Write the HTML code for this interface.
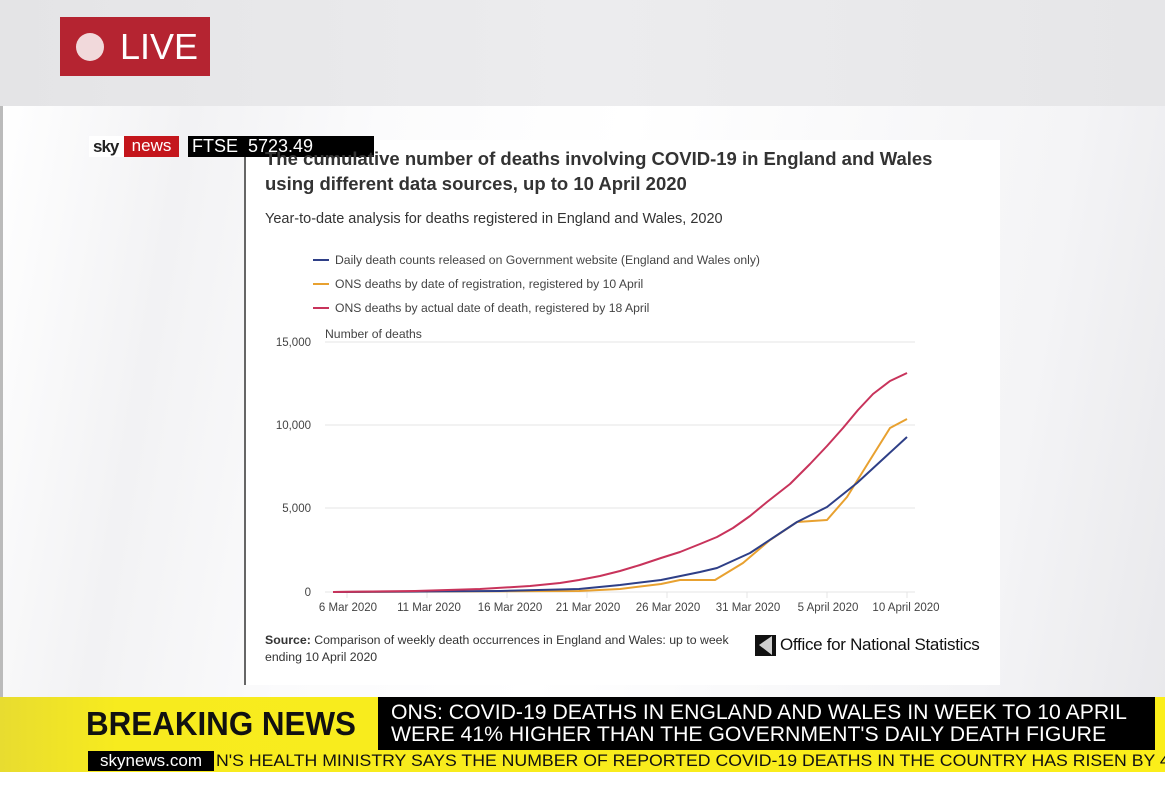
<!DOCTYPE html>
<html><head><meta charset="utf-8"><style>
body{margin:0;width:1165px;height:790px;overflow:hidden;position:relative;background:#fff;font-family:"Liberation Sans",sans-serif}
.a{position:absolute}
</style></head><body>
<div class="a" style="left:0;top:0;width:1165px;height:106px;background:linear-gradient(90deg,#e4e4e6,#ececee 50%,#e6e6e8)"></div>
<div class="a" style="left:0;top:106px;width:1165px;height:591px;background:linear-gradient(100deg,#fff 0%,#f2f2f4 15%,#fbfbfc 30%,#fff 50%,#f4f4f6 85%,#e9e9ec 100%)"></div>
<div class="a" style="left:0;top:106px;width:3px;height:591px;background:#bbb"></div>
<div class="a" style="left:60px;top:17px;width:150px;height:59px;background:#b52431"></div>
<div class="a" style="left:76px;top:33px;width:28px;height:28px;border-radius:50%;background:#f1d9db"></div>
<div class="a" style="left:120px;top:26px;color:#fff;font-size:36px;line-height:42px">LIVE</div>
<div class="a" style="left:244px;top:140px;width:754px;height:545px;background:#fff;border-left:2px solid #666"></div>
<div class="a" style="left:89px;top:136px;width:90px;height:21px;background:#fff"></div>
<div class="a" style="left:93px;top:136px;font-size:17px;font-weight:bold;letter-spacing:-1px;color:#222;line-height:21px">sky</div>
<div class="a" style="left:124px;top:136px;width:55px;height:21px;background:#c4161c;color:#fff;font-size:17px;line-height:20px;text-align:center">news</div>
<div class="a" style="left:188px;top:136px;width:186px;height:21px;background:#000;color:#fff;font-size:18px;line-height:21px;padding-left:4px;box-sizing:border-box">FTSE&nbsp; 5723.49</div>
<div class="a" style="left:265px;top:146px;font-size:18.5px;font-weight:bold;color:#333;line-height:25px;white-space:nowrap">The cumulative number of deaths involving COVID-19 in England and Wales<br>using different data sources, up to 10 April 2020</div>
<div class="a" style="left:265px;top:211px;font-size:14.5px;color:#333">Year-to-date analysis for deaths registered in England and Wales, 2020</div>
<svg class="a" style="left:0;top:0" width="1165" height="790">
<g stroke-width="2"><line x1="313" y1="260" x2="329" y2="260" stroke="#2e3f87"/><line x1="313" y1="284" x2="329" y2="284" stroke="#e8a130"/><line x1="313" y1="308" x2="329" y2="308" stroke="#c8335b"/></g>
<g font-family="Liberation Sans" font-size="12.2" fill="#444">
<text x="335" y="264">Daily death counts released on Government website (England and Wales only)</text>
<text x="335" y="288">ONS deaths by date of registration, registered by 10 April</text>
<text x="335" y="312">ONS deaths by actual date of death, registered by 18 April</text>
<text x="325" y="338">Number of deaths</text>
</g>
<g font-family="Liberation Sans" font-size="11.5" fill="#444">
<g text-anchor="end"><text x="311" y="346">15,000</text><text x="311" y="429">10,000</text><text x="311" y="512">5,000</text><text x="311" y="596">0</text></g>
<g text-anchor="middle"><text x="348" y="611">6 Mar 2020</text><text x="429" y="611">11 Mar 2020</text><text x="510" y="611">16 Mar 2020</text><text x="588" y="611">21 Mar 2020</text><text x="668" y="611">26 Mar 2020</text><text x="748" y="611">31 Mar 2020</text><text x="828" y="611">5 April 2020</text><text x="906" y="611">10 April 2020</text></g>
</g>
<g stroke="#e4e4e4" stroke-width="1"><line x1="325" y1="342" x2="915" y2="342"/><line x1="325" y1="425" x2="915" y2="425"/><line x1="325" y1="508" x2="915" y2="508"/><line x1="325" y1="592" x2="915" y2="592"/>
<line x1="347" y1="592" x2="347" y2="598"/><line x1="427" y1="592" x2="427" y2="598"/><line x1="507" y1="592" x2="507" y2="598"/><line x1="587" y1="592" x2="587" y2="598"/><line x1="667" y1="592" x2="667" y2="598"/><line x1="747" y1="592" x2="747" y2="598"/><line x1="827" y1="592" x2="827" y2="598"/><line x1="907" y1="592" x2="907" y2="598"/></g>
<g fill="none" stroke-width="2" stroke-linejoin="round">
<polyline stroke="#e8a130" points="333,592 579,591 620,589 661,584 680,580 715,580 743,563 770,540 797,522 827,520 847,497 870,460 890,428 907,419"/>
<polyline stroke="#2e3f87" points="333,592 500,591 579,589 620,585 661,580 700,572 717,568 750,553 797,522 827,507 857,483 907,437"/>
<polyline stroke="#c8335b" points="333,592 415,591 480,589 530,586 560,583 579,580 600,576 620,571 640,565 661,558 680,552 700,544 717,537 733,528 750,516 767,502 790,484 810,464 827,446 843,428 858,410 873,394 890,381 907,373"/>
</g>
<rect x="755" y="635" width="21" height="21" fill="#111"/><path d="M759 645 L772 636 L772 655 Z" fill="#fff" opacity=".8"/>
</svg>
<div class="a" style="left:265px;top:632px;font-size:12.3px;color:#333;line-height:17px;width:480px"><b>Source:</b> Comparison of weekly death occurrences in England and Wales: up to week ending 10 April 2020</div>
<div class="a" style="left:780px;top:635px;font-size:17px;color:#111;letter-spacing:-0.3px">Office for National Statistics</div>
<div class="a" style="left:0;top:697px;width:1165px;height:75px;background:linear-gradient(90deg,#e8dc30,#f7eb1e 10%,#fbee1a)"></div>
<div class="a" style="left:86px;top:703px;font-size:33px;font-weight:bold;color:#111;line-height:42px;transform:scaleX(.95);transform-origin:left">BREAKING NEWS</div>
<div class="a" style="left:378px;top:697px;width:777px;height:53px;background:#000"></div>
<div class="a" style="left:391px;top:702px;color:#fff;font-size:21px;line-height:22px;transform:scaleX(1.01);transform-origin:left;white-space:nowrap">ONS: COVID-19 DEATHS IN ENGLAND AND WALES IN WEEK TO 10 APRIL<br>WERE 41% HIGHER THAN THE GOVERNMENT'S DAILY DEATH FIGURE</div>
<div class="a" style="left:88px;top:751px;width:126px;height:20px;background:#000;color:#fff;font-size:17px;line-height:20px;text-align:center">skynews.com</div>
<div class="a" style="left:216px;top:751px;font-size:17px;color:#111;line-height:20px;white-space:nowrap;transform:scaleX(1.04);transform-origin:left">N'S HEALTH MINISTRY SAYS THE NUMBER OF REPORTED COVID-19 DEATHS IN THE COUNTRY HAS RISEN BY 430</div>
</body></html>
